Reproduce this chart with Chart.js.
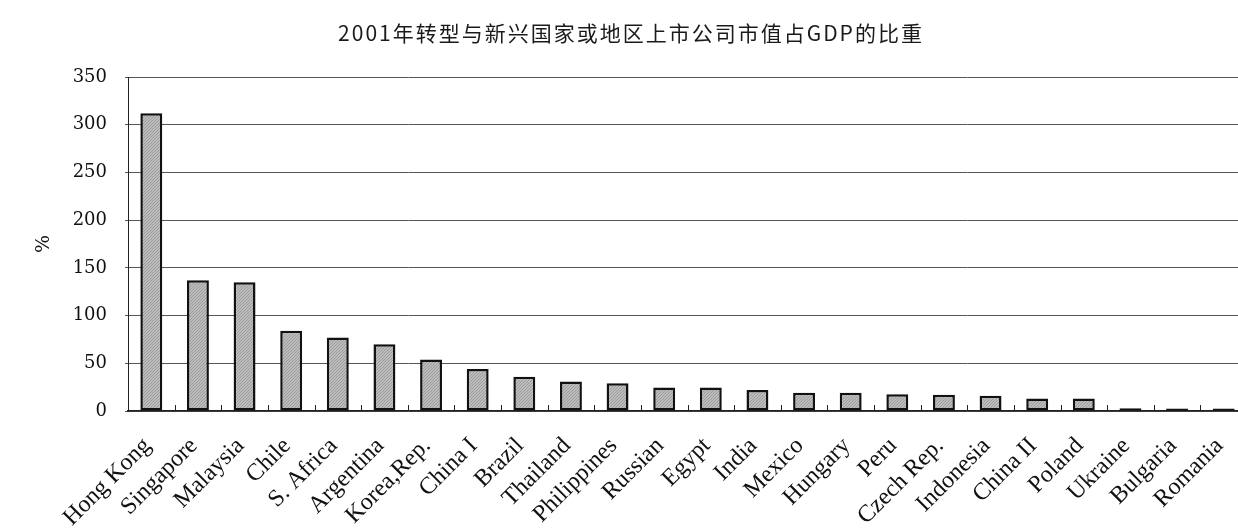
<!DOCTYPE html>
<html>
<head>
<meta charset="utf-8">
<title>2001年转型与新兴国家或地区上市公司市值占GDP的比重</title>
<script src="https://cdn.jsdelivr.net/npm/chart.js@4.4.1/dist/chart.umd.min.js"></script>
<style>
    html, body { margin: 0; padding: 0; background: #fff; overflow: hidden; }
    #wrap { width: 1247px; height: 528px; }
</style>
</head>
<body>
<div id="wrap"><canvas id="capChart"></canvas></div>
<script>
// Market capitalisation of listed companies as % of GDP, 2001
const chartTitle = '2001年转型与新兴国家或地区上市公司市值占GDP的比重';
const axisLabel = '%';

const countries = [
    'Hong Kong', 'Singapore', 'Malaysia', 'Chile', 'S. Africa', 'Argentina',
    'Korea,Rep.', 'China I', 'Brazil', 'Thailand', 'Philippines', 'Russian',
    'Egypt', 'India', 'Mexico', 'Hungary', 'Peru', 'Czech Rep.',
    'Indonesia', 'China II', 'Poland', 'Ukraine', 'Bulgaria', 'Romania'
];

const capToGdp = [
    312, 137, 135, 84, 77, 70,
    54, 44, 36, 31, 29, 24.5,
    24.5, 22, 19, 19, 17.5, 17,
    16, 13, 13, 3, 2.5, 2.5
];

const yTicks = [0, 50, 100, 150, 200, 250, 300, 350];

// grey fill with fine diagonal hatching, like the printed bars
function hatchPattern() {
    const c = document.createElement('canvas');
    c.width = 3;
    c.height = 3;
    const g = c.getContext('2d');
    g.fillStyle = '#bcbcbc';
    g.fillRect(0, 0, 3, 3);
    g.fillStyle = '#9c9c9c';
    g.fillRect(2, 0, 1, 1);
    g.fillRect(1, 1, 1, 1);
    g.fillRect(0, 2, 1, 1);
    return g.createPattern(c, 'repeat');
}

// title drawn by hand so the characters can be spaced out
const titlePlugin = {
    id: 'spacedTitle',
    afterDraw(chart) {
        const ctx = chart.ctx;
        ctx.save();
        ctx.font = '21px "Noto Sans CJK SC", "DejaVu Serif"';
        ctx.fillStyle = '#1a1a1a';
        ctx.textAlign = 'center';
        ctx.textBaseline = 'middle';
        if ('letterSpacing' in ctx) ctx.letterSpacing = '2px';
        ctx.fillText(chartTitle, 631, 33);
        ctx.restore();
    }
};

// short tick marks between categories, pointing up into the plot
const innerTicks = {
    id: 'innerTicks',
    afterDatasetsDraw(chart) {
        const x = chart.scales.x;
        const y = chart.scales.y;
        const base = y.getPixelForValue(0);
        const ctx = chart.ctx;
        ctx.save();
        ctx.strokeStyle = '#222';
        ctx.lineWidth = 1;
        ctx.beginPath();
        for (let i = 1; i < countries.length; i++) {
            const px = Math.round((x.getPixelForTick(i - 1) + x.getPixelForTick(i)) / 2) + 0.5;
            ctx.moveTo(px, base);
            ctx.lineTo(px, base - 6);
        }
        ctx.stroke();
        ctx.restore();
    }
};

const canvas = document.getElementById('capChart');

new Chart(canvas, {
    type: 'bar',
    data: {
        labels: countries,
        datasets: [{
            data: capToGdp,
            backgroundColor: hatchPattern(),
            borderColor: '#111',
            borderWidth: 2.5,
            borderSkipped: false,
            categoryPercentage: 1,
            barPercentage: 0.47
        }]
    },
    options: {
        responsive: true,
        maintainAspectRatio: false,
        animation: false,
        layout: {
            padding: { top: 77, left: 0, right: 0, bottom: 0 }
        },
        plugins: {
            legend: { display: false },
            tooltip: { enabled: false }
        },
        scales: {
            x: {
                grid: { display: false },
                border: { display: true, color: '#222', width: 1.5 },
                ticks: {
                    color: '#111',
                    font: { family: '"Liberation Serif"', size: 24 },
                    minRotation: 45,
                    maxRotation: 45,
                    autoSkip: false,
                    padding: 13,
                    labelOffset: -4
                },
                afterFit: (scale) => {
                    scale.height = 117;
                    // let the last categories run off the right edge
                    scale.paddingLeft = 0;
                    scale.paddingRight = 0;
                }
            },
            y: {
                min: yTicks[0],
                max: yTicks[yTicks.length - 1],
                ticks: {
                    stepSize: yTicks[1] - yTicks[0],
                    color: '#111',
                    font: { family: '"DejaVu Serif"', size: 18 },
                    padding: 18
                },
                grid: {
                    color: '#555',
                    lineWidth: 1,
                    tickLength: 3
                },
                border: { color: '#222', width: 1 },
                title: {
                    display: true,
                    text: axisLabel,
                    color: '#111',
                    font: { family: '"DejaVu Serif"', size: 19 },
                    padding: { top: 33, bottom: 0 }
                },
                afterFit: (scale) => { scale.width = 128; }
            }
        }
    },
    plugins: [titlePlugin, innerTicks]
});
</script>
</body>
</html>
